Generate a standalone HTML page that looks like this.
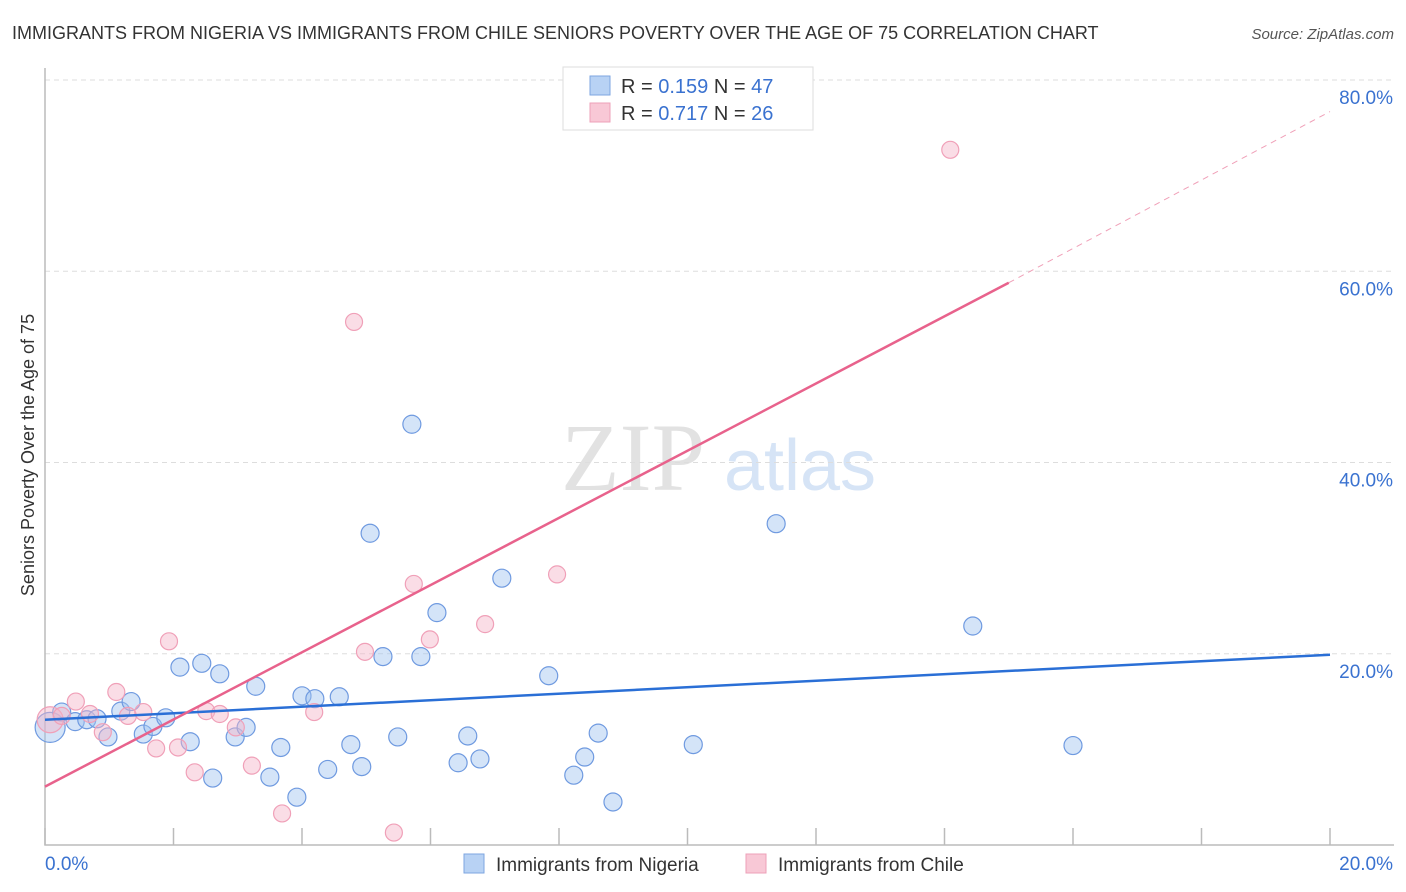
<!DOCTYPE html>
<html><head><meta charset="utf-8"><style>
body{margin:0;background:#fff;font-family:"Liberation Sans",sans-serif}
#wrap{position:relative;width:1406px;height:892px;overflow:hidden}
</style></head><body>
<div id="wrap">
<svg id="svg" width="1406" height="892" xmlns="http://www.w3.org/2000/svg">
<text x="12" y="39" font-size="18" fill="#333">IMMIGRANTS FROM NIGERIA VS IMMIGRANTS FROM CHILE SENIORS POVERTY OVER THE AGE OF 75 CORRELATION CHART</text>
<text x="1394" y="39" font-size="15" fill="#555" font-style="italic" text-anchor="end">Source: ZipAtlas.com</text>
<text x="633" y="490" font-size="96" fill="#e2e2e2" font-family="Liberation Serif,serif" text-anchor="middle">ZIP</text>
<text x="800" y="490" font-size="72" fill="#d6e4f6" text-anchor="middle">atlas</text>
<text transform="translate(34,455) rotate(-90)" font-size="18" fill="#333" text-anchor="middle">Seniors Poverty Over the Age of 75</text>
<g id="grid"></g><g id="axes"></g><g id="pts"></g><g id="lines"></g>
<g>
<rect x="563" y="67" width="250" height="63" fill="#fff" stroke="#ddd"/>
<rect x="590" y="76" width="20" height="19" fill="#b8d2f4" stroke="#7ea6e0"/>
<text x="621" y="93" font-size="20" fill="#333">R = <tspan fill="#3a72d0">0.159</tspan>   N = <tspan fill="#3a72d0">47</tspan></text>
<rect x="590" y="103" width="20" height="19" fill="#f8c8d6" stroke="#eea0b8"/>
<text x="621" y="120" font-size="20" fill="#333">R = <tspan fill="#3a72d0">0.717</tspan>   N = <tspan fill="#3a72d0">26</tspan></text>
</g>
<g>
<rect x="464" y="854" width="20" height="19" fill="#b8d2f4" stroke="#7ea6e0"/>
<text x="496" y="871" font-size="19" fill="#333">Immigrants from Nigeria</text>
<rect x="746" y="854" width="20" height="19" fill="#f8c8d6" stroke="#eea0b8"/>
<text x="778" y="871" font-size="19" fill="#333">Immigrants from Chile</text>
</g>
</svg>
</div>
<script>
const yTicks=[20,40,60,80];
const yTickLabels=["20.0%","40.0%","60.0%","80.0%"];
const xTicks=[0,2,4,6,8,10,12,14,16,18,20];
const xTickLabels=["0.0%","20.0%"];
const nigeriaX=[0.08,0.26,0.47,0.65,0.81,0.98,1.18,1.34,1.53,1.68,1.88,2.10,2.26,2.44,2.61,2.72,2.96,3.13,3.28,3.50,3.67,3.92,4.00,4.20,4.40,4.58,4.76,4.93,5.06,5.26,5.49,5.71,5.85,6.10,6.43,6.58,6.77,7.11,7.84,8.23,8.40,8.61,8.84,10.09,11.38,14.44,16.00];
const nigeriaY=[12.3,13.9,12.9,13.1,13.2,11.3,14.0,15.0,11.6,12.4,13.3,18.6,10.8,19.0,7.0,17.9,11.3,12.3,16.6,7.1,10.2,5.0,15.6,15.3,7.9,15.5,10.5,8.2,32.6,19.7,11.3,44.0,19.7,24.3,8.6,11.4,9.0,27.9,17.7,7.3,9.2,11.7,4.5,10.5,33.6,22.9,10.4];
const chileX=[0.08,0.26,0.48,0.70,0.90,1.11,1.29,1.53,1.73,1.93,2.07,2.33,2.51,2.72,2.97,3.22,3.69,4.19,4.81,4.98,5.43,5.74,5.99,6.85,7.97,14.09];
const chileY=[13.1,13.5,15.0,13.7,11.8,16.0,13.5,13.9,10.1,21.3,10.2,7.6,14.0,13.7,12.3,8.3,3.3,13.9,54.7,20.2,1.3,27.3,21.5,23.1,28.3,72.7];
const nigeriaTrend=[[0,13.1],[20,19.9]];
const chileTrend=[[0,6.1],[15,58.8]];
const chileTrendExt=[[15,58.8],[20,76.7]];
const NS="http://www.w3.org/2000/svg";
const sx=v=>45+v*64.25, sy=v=>845-v*9.5625;
function mk(tag,attrs,parent){const e=document.createElementNS(NS,tag);for(const k in attrs)e.setAttribute(k,attrs[k]);document.getElementById(parent).appendChild(e);return e;}
yTicks.forEach((t,i)=>{
 const g=mk('line',{x1:45,x2:1394,y1:sy(t),y2:sy(t),stroke:'#ddd','stroke-dasharray':'5,4'},'grid');
 
 
 const l=mk('text',{x:1393,y:sy(t)+24,'font-size':19,fill:'#3a72d0','text-anchor':'end'},'grid');
 l.textContent=yTickLabels[i];
 
 
});
const ax=mk('path',{d:`M45 68 V845 H1394`,stroke:'#bbb',fill:'none','stroke-width':1.5},'axes');


xTicks.forEach(t=>{
 const k=mk('line',{x1:sx(t),x2:sx(t),y1:828,y2:845,stroke:'#bbb','stroke-width':1.5},'axes');
 
 
});
const xl0=mk('text',{x:45,y:870,'font-size':19,fill:'#3a72d0'},'axes');xl0.textContent=xTickLabels[0];


const xl1=mk('text',{x:1393,y:870,'font-size':19,fill:'#3a72d0','text-anchor':'end'},'axes');xl1.textContent=xTickLabels[1];


nigeriaX.forEach((x,i)=>{
 const c=mk('circle',{cx:sx(x),cy:sy(nigeriaY[i]),r:i===0?15:9,fill:'rgba(160,195,240,0.45)',stroke:'#6f9ae0','stroke-width':1.2},'pts');
 
 
});
chileX.forEach((x,i)=>{
 const c=mk('circle',{cx:sx(x),cy:sy(chileY[i]),r:i===0?13:8.5,fill:'rgba(245,180,200,0.45)',stroke:'#f0a0b8','stroke-width':1.2},'pts');
 
 
});
const bl=mk('line',{x1:sx(nigeriaTrend[0][0]),y1:sy(nigeriaTrend[0][1]),x2:sx(nigeriaTrend[1][0]),y2:sy(nigeriaTrend[1][1]),stroke:'#2a6fd6','stroke-width':2.5},'lines');


const pl=mk('line',{x1:sx(chileTrend[0][0]),y1:sy(chileTrend[0][1]),x2:sx(chileTrend[1][0]),y2:sy(chileTrend[1][1]),stroke:'#e8628c','stroke-width':2.5},'lines');


const pe=mk('line',{x1:sx(chileTrendExt[0][0]),y1:sy(chileTrendExt[0][1]),x2:sx(chileTrendExt[1][0]),y2:sy(chileTrendExt[1][1]),stroke:'#f0a0b8','stroke-width':1,'stroke-dasharray':'6,5'},'lines');


</script>
</body></html>
